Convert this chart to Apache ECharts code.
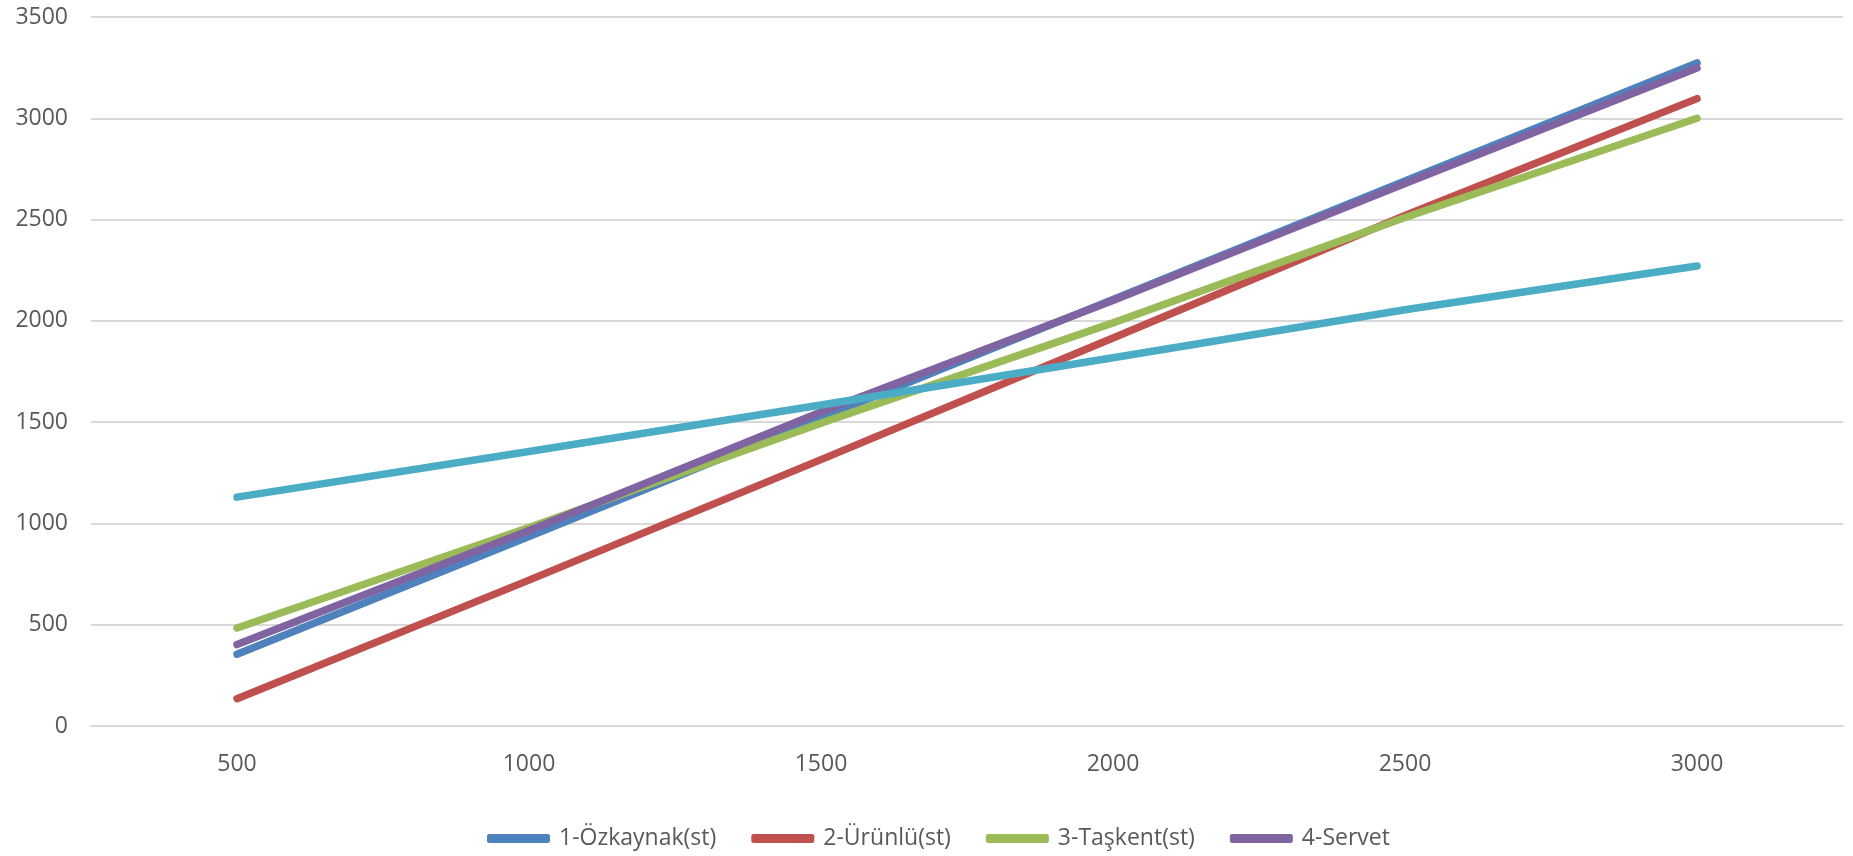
<!DOCTYPE html>
<html>
<head>
<meta charset="utf-8">
<script src="https://cdn.jsdelivr.net/npm/echarts@6/dist/echarts.min.js"></script>
<style>
html,body{margin:0;padding:0;background:#fff;}
#chart{width:1853px;height:856px;}
</style>
</head>
<body>
<div id="chart"></div>
<script>
const categories = ['500', '1000', '1500', '2000', '2500', '3000'];
const yTicks = [0, 500, 1000, 1500, 2000, 2500, 3000, 3500];

const ozkaynak = [354, 935, 1520, 2105, 2690, 3273];
const urunlu   = [135, 720, 1315, 1915, 2520, 3097];
const taskent  = [484, 980, 1495, 1990, 2510, 3000];
const servet   = [402, 965, 1550, 2100, 2678, 3248];
const besinci  = [1130, 1355, 1585, 1818, 2055, 2271];

const names = ['1-Özkaynak(st)', '2-Ürünlü(st)', '3-Taşkent(st)', '4-Servet', '5'];
const values = [ozkaynak, urunlu, taskent, servet, besinci];
const colors = ['#4F81BD', '#C0504D', '#9BBB59', '#8064A2', '#4BACC6'];

const FONT = '"Open Sans", "Noto Sans", sans-serif';
const TXT = '#595959';

const chart = echarts.init(document.getElementById('chart'), null, {renderer: 'canvas'});
chart.setOption({
  animation: false,
  backgroundColor: '#ffffff',
  grid: {left: 91, right: 10, top: 17, bottom: 130, containLabel: false},
  legend: {
    data: names.slice(0, 4),
    left: 482,
    top: 822,
    icon: 'roundRect',
    itemWidth: 63,
    itemHeight: 9,
    itemGap: 35,
    textStyle: {fontFamily: FONT, fontSize: 23, color: TXT, padding: [0, 0, 0, 4]}
  },
  xAxis: {
    type: 'category',
    data: categories,
    boundaryGap: true,
    axisLine: {show: true, lineStyle: {color: '#d9d9d9', width: 2}},
    axisTick: {show: false},
    axisLabel: {fontFamily: FONT, fontSize: 23, color: TXT, margin: 27}
  },
  yAxis: {
    type: 'value',
    min: yTicks[0],
    max: yTicks[yTicks.length - 1],
    interval: 500,
    axisLine: {show: false},
    axisTick: {show: false},
    splitLine: {lineStyle: {color: '#d9d9d9', width: 2}},
    axisLabel: {fontFamily: FONT, fontSize: 23, color: TXT, margin: 23, formatter: v => String(v)}
  },
  series: names.map((n, i) => ({
    name: n,
    type: 'line',
    data: values[i],
    showSymbol: false,
    symbol: 'none',
    color: colors[i],
    lineStyle: {width: 7.5, color: colors[i], cap: 'round', join: 'round'},
    emphasis: {disabled: true}
  }))
});
</script>
</body>
</html>
